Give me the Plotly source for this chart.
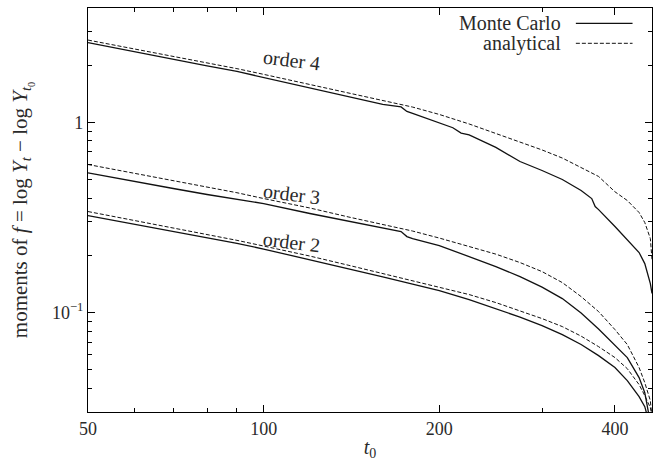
import math
import plotly.graph_objects as go

# ---- data ----
t_a4 = [50, 60, 70, 80, 90, 100, 120, 140, 160, 175, 180, 200, 225, 250, 275, 300, 325, 350, 375, 400, 420, 440, 450, 460, 463]
a4 = [2.713, 2.44, 2.228, 2.062, 1.919, 1.791, 1.585, 1.43, 1.30, 1.229, 1.205, 1.102, 0.982, 0.875, 0.789, 0.717,
      0.650, 0.580, 0.520, 0.432, 0.3886, 0.336, 0.2977, 0.2452, 0.19]

t_m4 = [50, 60, 70, 80, 90, 100, 120, 140, 160, 172, 176, 180, 200, 211, 218, 225, 250, 275, 300, 325, 350, 365, 370,
        375, 400, 420, 440, 450, 460, 463]
m4 = [2.628, 2.35, 2.133, 1.983, 1.855, 1.725, 1.519, 1.37, 1.244, 1.207, 1.143, 1.115, 0.988, 0.938, 0.880, 0.860,
      0.739, 0.623, 0.559, 0.501, 0.4386, 0.398, 0.361, 0.348, 0.2836, 0.2422, 0.207, 0.181, 0.142, 0.126]

t_a3 = [50, 60, 70, 80, 90, 100, 120, 140, 160, 180, 200, 225, 250, 275, 300, 325, 350, 375, 400, 420, 440, 450, 460, 463]
a3 = [0.601, 0.542, 0.495, 0.4575, 0.427, 0.398, 0.355, 0.318, 0.290, 0.2685, 0.2466, 0.2225, 0.203, 0.1833, 0.1643,
      0.1438, 0.1214, 0.1012, 0.0814, 0.0679, 0.0514, 0.0428, 0.0344, 0.028]

t_m3 = [50, 60, 70, 80, 90, 100, 120, 140, 160, 172, 176, 180, 200, 225, 250, 275, 300, 325, 350, 375, 400, 420, 440,
        450, 456, 460]
m3 = [0.5434, 0.489, 0.4494, 0.418, 0.3957, 0.3747, 0.332, 0.303, 0.280, 0.267, 0.251, 0.245, 0.2253, 0.197, 0.1746,
      0.1547, 0.1362, 0.1185, 0.0994, 0.0819, 0.0675, 0.058, 0.0455, 0.0379, 0.0305, 0.026]

t_a2 = [50, 60, 70, 80, 90, 100, 120, 140, 160, 180, 200, 225, 250, 275, 300, 325, 350, 375, 400, 420, 440, 450, 460, 463]
a2 = [0.340, 0.3057, 0.279, 0.258, 0.2399, 0.2239, 0.1983, 0.1772, 0.1608, 0.1474, 0.1362, 0.1244, 0.1129, 0.1024,
      0.0930, 0.0844, 0.0752, 0.0662, 0.058, 0.0507, 0.0418, 0.0366, 0.0316, 0.029]

t_m2 = [50, 60, 70, 80, 90, 100, 120, 140, 160, 180, 200, 225, 250, 275, 300, 325, 350, 375, 400, 420, 440, 450, 453, 458]
m2 = [0.324, 0.2922, 0.2676, 0.2481, 0.2313, 0.2159, 0.190, 0.1698, 0.1541, 0.1413, 0.1305, 0.1171, 0.105, 0.0947,
      0.0854, 0.0766, 0.0679, 0.0594, 0.0514, 0.0439, 0.0361, 0.032, 0.0297, 0.025]

x_ticks = [50, 100, 200, 400]
x_tick_text = ["50", "100", "200", "400"]
x_minor = [60, 70, 80, 90, 300]
y_ticks = [0.1, 1]
y_tick_text = ["10<sup>\u22121</sup>", "1"]
y_minor = [0.04, 0.05, 0.06, 0.07, 0.08, 0.09, 0.2, 0.3, 0.4, 0.5, 0.6, 0.7, 0.8, 0.9, 2, 3, 4]

labels = ["order 4", "order 3", "order 2"]
label_t = [111.8, 111.8, 111.8]
label_v = [2.12, 0.418, 0.2365]

FONT = "Liberation Serif"
TXT = "#2a2a2a"
solid = dict(color="#111", width=1.3)
dashed = dict(color="#111", width=1, dash="4px,2px")

fig = go.Figure()
for t, v in [(t_m4, m4), (t_m3, m3), (t_m2, m2)]:
    fig.add_trace(go.Scatter(x=t, y=v, mode="lines", line=solid, showlegend=False))
for t, v in [(t_a4, a4), (t_a3, a3), (t_a2, a2)]:
    fig.add_trace(go.Scatter(x=t, y=v, mode="lines", line=dashed, showlegend=False))

axis_common = dict(showgrid=False, zeroline=False, showline=True, linecolor="black", linewidth=1.2,
                   mirror="allticks", ticks="inside", ticklen=7, tickcolor="black", tickwidth=1,
                   tickfont=dict(family=FONT, size=18, color=TXT))

fig.update_xaxes(type="log", range=[math.log10(50), math.log10(463)], tickvals=x_ticks, ticktext=x_tick_text,
                 minor=dict(tickvals=x_minor, ticks="inside", ticklen=4, tickcolor="black"),
                 title=dict(text="<i>t</i><sub>0</sub>", font=dict(family=FONT, size=20, color=TXT), standoff=2),
                 **axis_common)
fig.update_yaxes(type="log", range=[math.log10(0.03), math.log10(4)], tickvals=y_ticks, ticktext=y_tick_text,
                 minor=dict(tickvals=y_minor, ticks="inside", ticklen=4, tickcolor="black"),
                 title=dict(text="moments of <i>f</i> = log <i>Y</i><sub><i>t</i></sub> \u2212 log <i>Y</i><sub><i>t</i><sub>0</sub></sub>",
                            font=dict(family=FONT, size=21, color=TXT), standoff=18),
                 **axis_common)

for txt, t, v in zip(labels, label_t, label_v):
    fig.add_annotation(x=math.log10(t), y=math.log10(v), text=txt, showarrow=False, textangle=7,
                       font=dict(family=FONT, size=20, color=TXT))

# legend drawn gnuplot-style: text to the left of the sample line
leg = [("Monte Carlo", 0.962, solid), ("analytical", 0.9126, dashed)]
for txt, yy, ln in leg:
    fig.add_annotation(xref="paper", yref="paper", x=0.843, y=yy, text=txt, showarrow=False, xanchor="right",
                       yanchor="middle", font=dict(family=FONT, size=20, color=TXT))
    fig.add_shape(type="line", xref="paper", yref="paper", x0=0.865, x1=0.9655, y0=yy, y1=yy,
                  line=dict(color="#111", width=ln["width"], dash=ln.get("dash", "solid")))

fig.update_layout(width=654, height=464, margin=dict(l=88, r=2, t=8, b=52), plot_bgcolor="white",
                  paper_bgcolor="white", showlegend=False)

fig.write_html("out.html")
